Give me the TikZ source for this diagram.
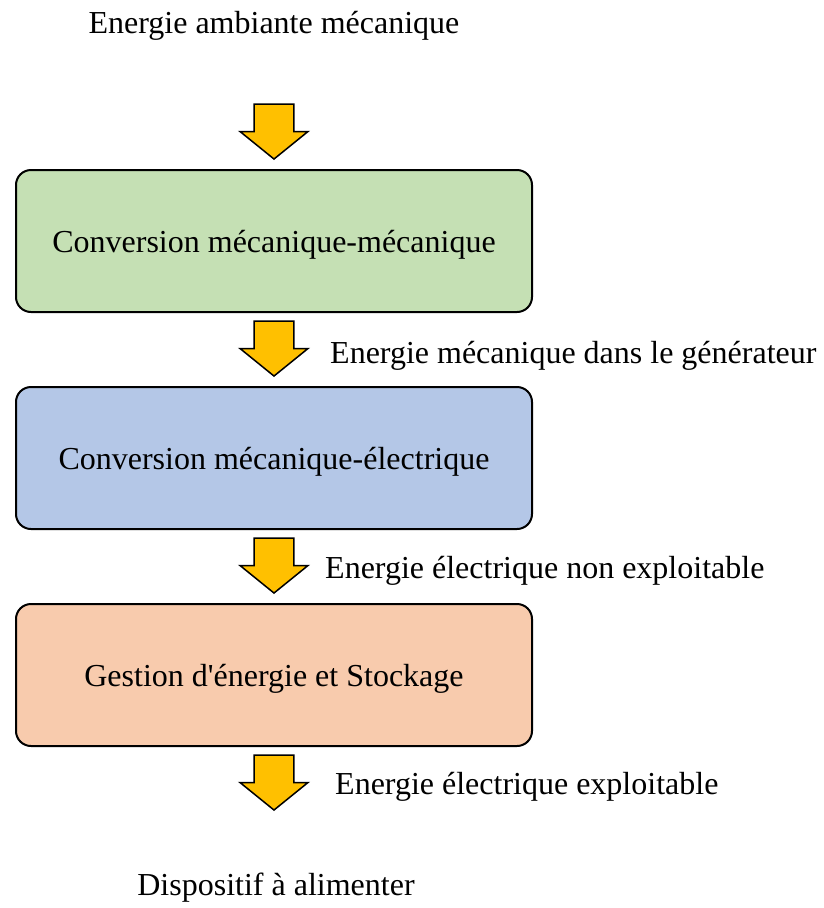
\documentclass[tikz,border=0pt]{standalone}
\usepackage{fontspec}
\setmainfont{Liberation Serif}[Ligatures=TeXOff]
\usepackage{tikz}
\usetikzlibrary{shapes.arrows}

\definecolor{arrowyellow}{HTML}{FFC000}
\definecolor{boxgreen}{HTML}{C5E0B4}
\definecolor{boxblue}{HTML}{B4C7E7}
\definecolor{boxorange}{HTML}{F8CBAD}

\tikzset{
	stage/.style={shape=rectangle, rounded corners=15pt, draw=black, line width=2pt,
		minimum width=516pt, minimum height=142pt, text height=22pt, text depth=0pt},
	flow/.style={single arrow, shape border rotate=270, draw=black, line width=1.5pt,
		fill=arrowyellow, minimum height=55pt, minimum width=68pt,
		inner xsep=19pt, inner ysep=0pt, anchor=tip,
		single arrow head extend=14pt, single arrow tip angle=102},
	lbl/.style={anchor=base west, inner sep=0pt},
	ends/.style={anchor=base, inner sep=0pt}
}

\begin{document}
\begin{tikzpicture}[x=1pt, y=-1pt, font=\fontsize{32}{38}\selectfont]
	
	\useasboundingbox (0, 0) rectangle (823, 908);
	
	\node[ends] (src) at (274, 33) {Energie ambiante mécanique};
	
	\node[flow] (a1) at (274, 160) {};
	\node[stage, fill=boxgreen]  (mm) at (274, 241) {Conversion mécanique-mécanique};
	\node[flow] (a2) at (274, 377) {};
	\node[stage, fill=boxblue]   (me) at (274, 458) {Conversion mécanique-électrique};
	\node[flow] (a3) at (274, 594) {};
	\node[stage, fill=boxorange] (gs) at (274, 675) {Gestion d'énergie et Stockage};
	\node[flow] (a4) at (274, 811) {};
	
	\node[lbl] (l2) at (330, 363) {Energie mécanique dans le générateur};
	\node[lbl] (l3) at (325, 578) {Energie électrique non exploitable};
	\node[lbl] (l4) at (335, 794) {Energie électrique exploitable};
	
	\node[ends] (dst) at (276, 895) {Dispositif à alimenter};

\end{tikzpicture}
\end{document}
